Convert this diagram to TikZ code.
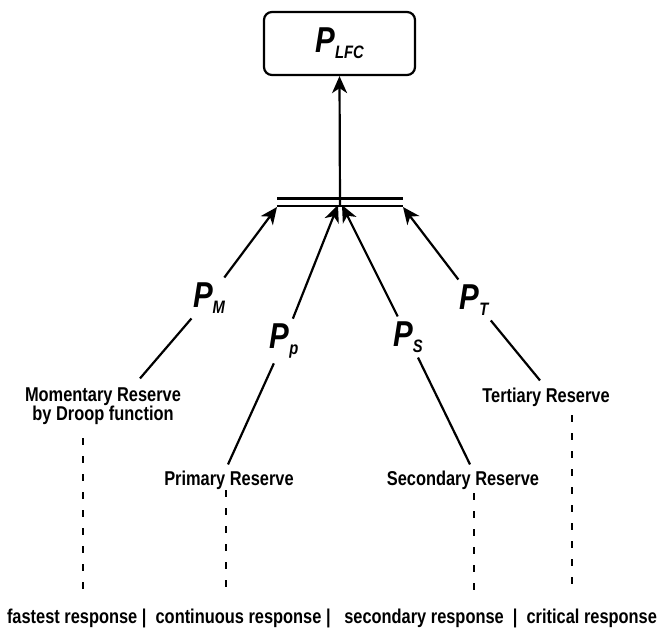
\documentclass[tikz,border=0pt]{standalone}
\usepackage{fontspec}
\setmainfont{Liberation Sans}[FakeStretch=0.82]
\usetikzlibrary{arrows.meta}

\newcommand{\Pvar}[1]{{\fontsize{36}{36}\selectfont\bfseries\itshape P}\raisebox{-6pt}{\fontsize{18}{18}\selectfont\bfseries\itshape #1}}

\begin{document}
\begin{tikzpicture}[x=1pt,y=-1pt,line width=2.2pt,
  every node/.style={font=\fontsize{20}{19}\selectfont\bfseries},
  tip/.style={-{Stealth[length=17pt,width=15pt,inset=5pt]}},
  reserve/.style={inner sep=2pt,align=center},
  sym/.style={inner sep=4pt},
  timeline/.style={line width=2.5pt,dash pattern=on 7pt off 11pt}]
\useasboundingbox (0,0) rectangle (659,629);
\node [draw,rounded corners=8pt,minimum width=151pt,minimum height=63pt] (lfc) at (339.5,43.5) {\Pvar{LFC}};
\draw [line width=2.6pt] (277,198.5) -- (403,198.5);
\draw [line width=2.6pt] (277,206) -- (403,206);
\coordinate (bus) at (340,206);
\coordinate (busL) at (277,207);
\coordinate (busR) at (403,207);
\draw [tip] (bus) -- (lfc.south);
\node [reserve] (mom) at (103,406) {Momentary Reserve\\by Droop function};
\node [reserve,anchor=base] (pri) at (229,485) {Primary Reserve};
\node [reserve,anchor=base] (sec) at (463,485) {Secondary Reserve};
\node [reserve,anchor=base] (ter) at (546,402) {Tertiary Reserve};
\node [anchor=base] (resp) at (332,623) {fastest response |\ \ continuous response |\ \ \ secondary response\ \ |\ \ critical response};
\node [sym] (pm) at (209,298) {\Pvar{M}};
\node [sym] (pp) at (284,341) {\Pvar{p}};
\node [sym] (ps) at (408,337) {\Pvar{S}};
\node [sym] (pt) at (474,300) {\Pvar{T}};
\draw ([xshift=37pt,yshift=6pt]mom.north) -- (pm);
\draw [tip] (pm) -- (busL);
\draw ([xshift=-1pt,yshift=3pt]pri.north) -- (pp);
\draw [tip] (pp) -- ([xshift=-2pt,yshift=1pt]bus);
\draw ([xshift=7pt,yshift=3pt]sec.north) -- (ps);
\draw [tip] (ps) -- ([xshift=2pt,yshift=1pt]bus);
\draw ([xshift=-6pt,yshift=4pt]ter.north) -- (pt);
\draw [tip] (pt) -- (busR);
\coordinate (t1) at (83,438);
\coordinate (t2) at (226,490);
\coordinate (t3) at (474,493);
\coordinate (t4) at (572,415);
\draw [timeline] (t1) -- ++(0,155);
\draw [timeline] (t2) -- ++(0,103);
\draw [timeline] (t3) -- ++(0,104);
\draw [timeline] (t4) -- ++(0,178);
\end{tikzpicture}
\end{document}
